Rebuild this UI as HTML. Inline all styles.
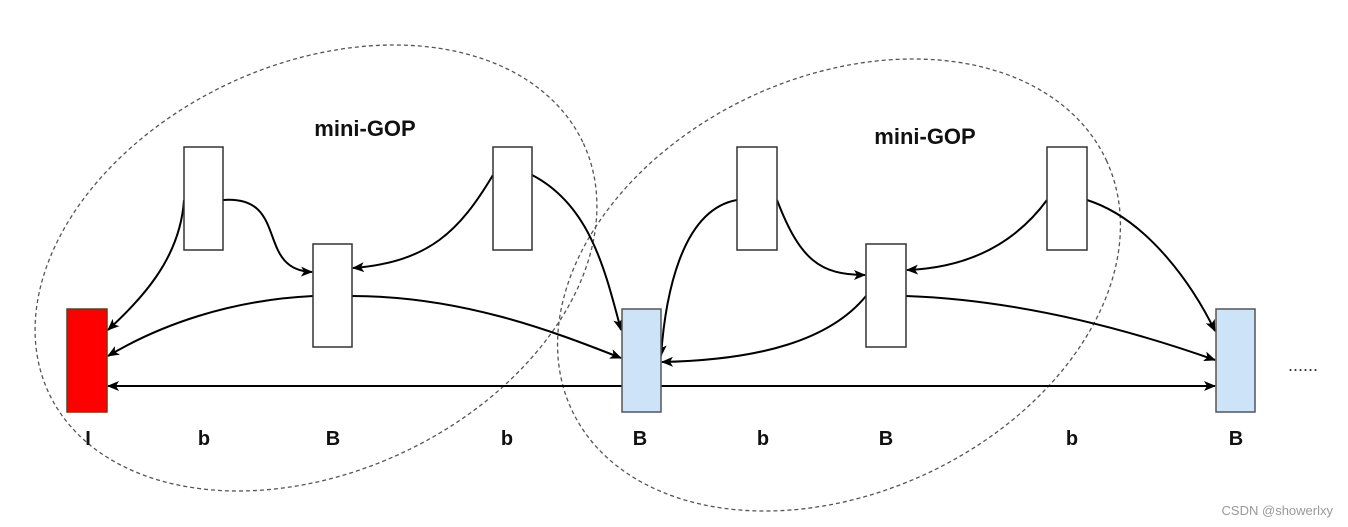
<!DOCTYPE html>
<html><head><style>html,body{margin:0;background:#fff;overflow:hidden;width:1348px;height:527px}svg{display:block}</style></head><body>
<svg width="1348" height="527" xmlns="http://www.w3.org/2000/svg" font-family="Liberation Sans, sans-serif">
<defs><marker id="a" markerWidth="12" markerHeight="10" refX="11" refY="5" orient="auto" markerUnits="userSpaceOnUse"><path d="M0,0 L12,5 L0,10 L3,5 Z" fill="#000"/></marker></defs>
<g fill="none" stroke="#555" stroke-width="1.3" stroke-dasharray="4,3">
<ellipse cx="316" cy="268" rx="295" ry="204" transform="rotate(-25 316 268)"/>
<ellipse cx="839" cy="285" rx="295" ry="208" transform="rotate(-25 839 285)"/>
</g>
<g fill="none" stroke="#000" stroke-width="2" marker-end="url(#a)">
<path d="M184,200 C180,260 140,300 108,330"/>
<path d="M223,200 C290,195 255,270 312,272"/>
<path d="M493,175 C460,230 430,262 353,268"/>
<path d="M532,175 C590,205 605,270 621,330"/>
<path d="M313,296 C230,300 160,325 108,356"/>
<path d="M352,296 C460,296 550,330 621,358"/>
<path d="M622,386 L108,386"/>
<path d="M737,200 C680,210 665,300 661,356"/>
<path d="M777,200 C800,260 820,275 865,275"/>
<path d="M1047,200 C1010,250 960,268 907,270"/>
<path d="M1087,200 C1150,220 1195,290 1215,331"/>
<path d="M866,296 C830,340 760,360 662,362"/>
<path d="M906,296 C1020,300 1130,330 1215,360"/>
<path d="M661,386 L1215,386"/>
</g>
<g stroke="#333" stroke-width="1.5">
<rect x="67" y="309" width="40" height="103" fill="#f00" stroke="#6b3a1a"/>
<rect x="184" y="147" width="39" height="103" fill="#fff"/>
<rect x="313" y="244" width="39" height="103" fill="#fff"/>
<rect x="493" y="147" width="39" height="103" fill="#fff"/>
<rect x="622" y="309" width="39" height="103" fill="#cce3f8" stroke="#555"/>
<rect x="737" y="147" width="40" height="103" fill="#fff"/>
<rect x="866" y="244" width="40" height="103" fill="#fff"/>
<rect x="1047" y="147" width="40" height="103" fill="#fff"/>
<rect x="1216" y="309" width="39" height="103" fill="#cce3f8" stroke="#555"/>
</g>
<g font-weight="bold" font-size="22" text-anchor="middle" fill="#111">
<text x="365" y="136">mini-GOP</text>
<text x="925" y="144">mini-GOP</text>
</g>
<g font-weight="bold" font-size="20" text-anchor="middle" fill="#111">
<text x="88" y="445">I</text>
<text x="204" y="445">b</text>
<text x="333" y="445">B</text>
<text x="507" y="445">b</text>
<text x="640" y="445">B</text>
<text x="763" y="445">b</text>
<text x="886" y="445">B</text>
<text x="1072" y="445">b</text>
<text x="1236" y="445">B</text>
</g>
<text x="1288" y="371" font-size="18" fill="#333">......</text>
<text x="1333" y="515" font-size="13" text-anchor="end" fill="#999">CSDN @showerlxy</text>
</svg>
</body></html>
